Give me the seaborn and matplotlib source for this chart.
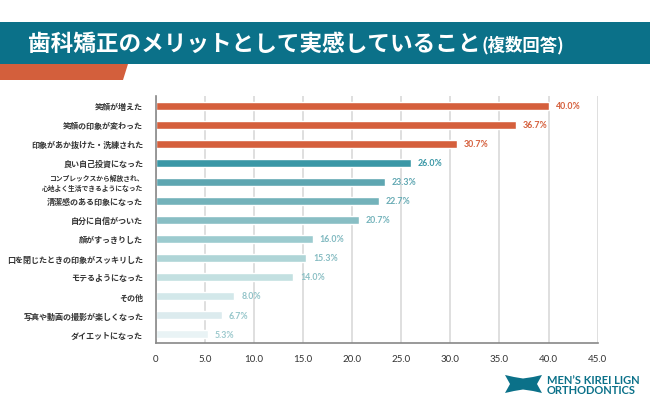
import matplotlib
matplotlib.use("Agg")
import matplotlib.pyplot as plt
import matplotlib.transforms as mtransforms
import seaborn as sns
from matplotlib.patches import Polygon, Rectangle

categories = [
    "笑顔が増えた",
    "笑顔の印象が変わった",
    "印象があか抜けた・洗練された",
    "良い自己投資になった",
    "コンプレックスから解放され、\n心地よく生活できるようになった",
    "清潔感のある印象になった",
    "自分に自信がついた",
    "顔がすっきりした",
    "口を閉じたときの印象がスッキリした",
    "モテるようになった",
    "その他",
    "写真や動画の撮影が楽しくなった",
    "ダイエットになった",
]
values = [40.0, 36.7, 30.7, 26.0, 23.3, 22.7, 20.7, 16.0, 15.3, 14.0, 8.0, 6.7, 5.3]
bar_colors = ["#d55f3c", "#d55f3c", "#d55f3c", "#3a97a6", "#5ea6b1", "#73b2ba",
              "#88bec4", "#9ccbcf", "#afd5d7", "#c3e0e1", "#d3e8ea", "#dcebee", "#e9f3f5"]
label_colors = ["#d55f3c", "#d55f3c", "#d55f3c", "#3a97a6", "#5ea6b1", "#6aacb5",
                "#74b3bb", "#80b9c0", "#86bcc2", "#8cc0c5", "#92c3c8", "#96c6ca", "#9cc9cd"]
xticks = [0, 5, 10, 15, 20, 25, 30, 35, 40, 45]
xtick_labels = ["0", "5.0", "10.0", "15.0", "20.0", "25.0", "30.0", "35.0", "40.0", "45.0"]
title_main = "歯科矯正のメリットとして実感していること"
title_sub = "(複数回答)"
logo_lines = "MEN’S KIREI LIGN\nORTHODONTICS"

sns.set_theme(style="white")
plt.rcParams['font.family'] = ['Noto Sans CJK JP', 'DejaVu Sans']

W, H = 650, 410
fig = plt.figure(figsize=(W / 100, H / 100), dpi=100)
fig.patch.set_facecolor("white")

ax = fig.add_axes([155.7 / W, 1 - 344 / H, (597.7 - 155.7) / W, (344 - 97) / H])
sns.barplot(x=values, y=categories, hue=categories, palette=bar_colors,
            legend=False, width=0.42, orient="h", ax=ax, saturation=1)
ax.set_xlim(0, 45)
ax.set_ylim(12.47, -0.51)
ax.set_xticks(xticks)
ax.set_xticklabels(xtick_labels, fontsize=7, color="#333333", family=['Lato', 'DejaVu Sans'])
ax.tick_params(axis="x", length=0, pad=8)
ax.tick_params(axis="y", length=0, pad=9)

ylabels = [c if "\n" not in c else "" for c in categories]
ax.set_yticks(range(len(categories)))
ax.set_yticklabels(ylabels, fontsize=5.8, fontweight="bold", color="#333333")
trans = mtransforms.blended_transform_factory(ax.transAxes, ax.transData) + \
    mtransforms.ScaledTranslation(-9 / 72, 0, fig.dpi_scale_trans)
for i, c in enumerate(categories):
    if "\n" in c:
        ax.text(0, i, c, transform=trans, ha="right", va="center", fontsize=4.9,
                fontweight="bold", color="#333333", linespacing=1.5, multialignment="right")

ax.set_xlabel("")
ax.set_ylabel("")
ax.set_axisbelow(True)
ax.grid(axis="x", color="#dcdcdc", linewidth=1.3)
ax.grid(axis="y", visible=False)
for s in ["top", "right"]:
    ax.spines[s].set_visible(False)
for s in ["left", "bottom"]:
    ax.spines[s].set_color("#888888")
    ax.spines[s].set_linewidth(1.2)

for i, cont in enumerate(ax.containers):
    ax.bar_label(cont, labels=[f"{values[i]:.1f}%"], padding=5, fontsize=6.3,
                 color=label_colors[i], fontweight="bold", family=['Lato', 'DejaVu Sans'])

# title banner
fig.patches.append(Rectangle((0, 1 - 65 / H), 1, 42 / H, transform=fig.transFigure,
                             facecolor="#0b7189", edgecolor="none", zorder=0))
fig.patches.append(Polygon([(0, 1 - 65 / H), (128 / W, 1 - 65 / H), (123 / W, 1 - 81 / H), (0, 1 - 81 / H)],
                           closed=True, transform=fig.transFigure, facecolor="#d35f3c",
                           edgecolor="none", zorder=0))
t1 = fig.text(28 / W, 1 - 44 / H, title_main, color="white", fontsize=16.3, fontweight="bold",
              va="center", ha="left")
fig.canvas.draw()
bb = t1.get_window_extent()
fig.text(bb.x1 / W + 1 / W, 1 - 45 / H, title_sub, color="white", fontsize=12.5, fontweight="bold",
         va="center", ha="left")

# logo
def fp(x, y):
    return (x / W, 1 - y / H)

logo_pts = [fp(505, 376), fp(514, 378), fp(523, 379.5), fp(533, 378), fp(542, 376),
            fp(537, 385), fp(542, 394), fp(533, 392), fp(523, 390.5), fp(514, 392),
            fp(505, 394), fp(510, 385)]
fig.patches.append(Polygon(logo_pts, closed=True, transform=fig.transFigure,
                           facecolor="#0b7189", edgecolor="none"))
fig.text(547 / W, 1 - 385.5 / H, logo_lines, color="#0b7189", fontsize=8, fontweight="bold",
         va="center", ha="left", linespacing=0.95, family=['Lato', 'DejaVu Sans'])

fig.savefig("out.png", dpi=100, facecolor="white")
